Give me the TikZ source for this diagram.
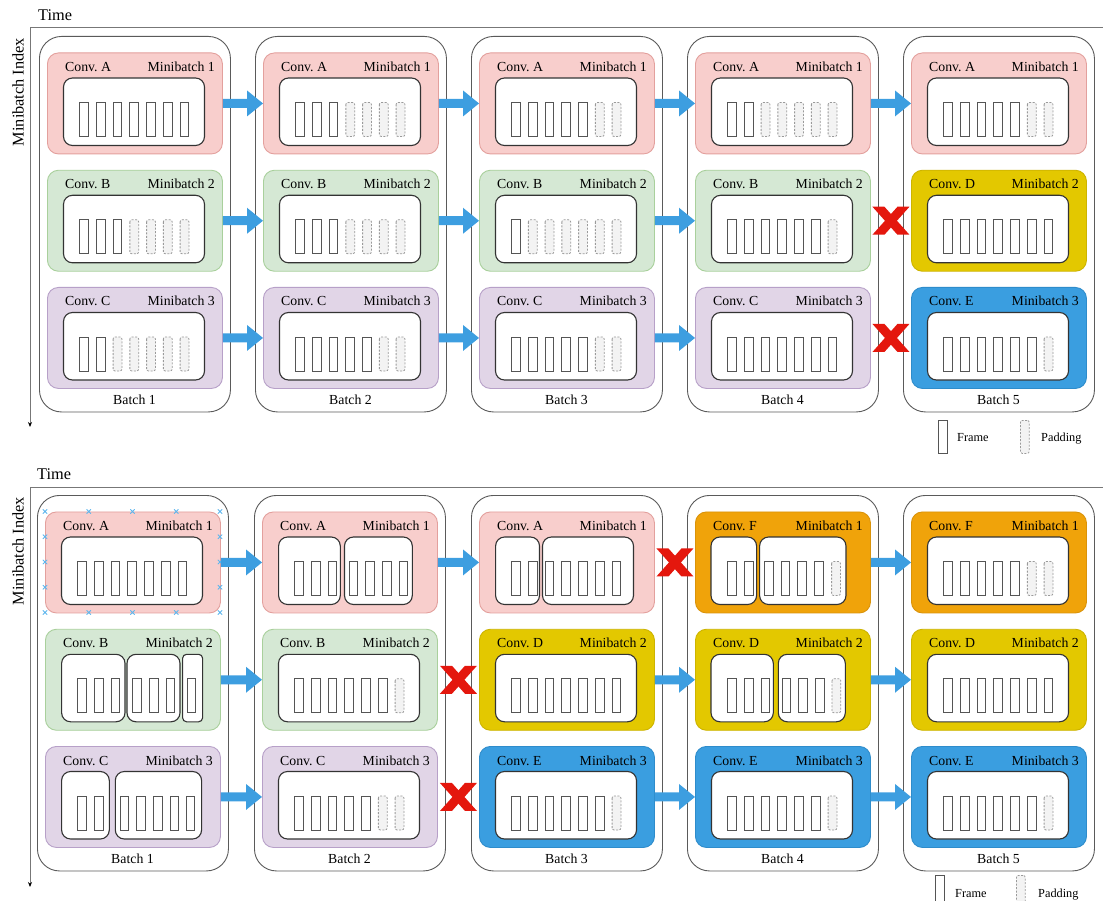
\documentclass[tikz,border=0pt]{standalone}
\usepackage{fontspec}
\setmainfont{Liberation Serif}
\usetikzlibrary{arrows.meta,calc}
\definecolor{pinkf}{HTML}{F8CECC}
\definecolor{pinkd}{HTML}{E3A09D}
\definecolor{greenf}{HTML}{D5E8D4}
\definecolor{greend}{HTML}{A9D09C}
\definecolor{purpf}{HTML}{E1D5E7}
\definecolor{purpd}{HTML}{B7A0C8}
\definecolor{yelf}{HTML}{E3C800}
\definecolor{yeld}{HTML}{CDB400}
\definecolor{oraf}{HTML}{F0A30A}
\definecolor{orad}{HTML}{DA930A}
\definecolor{bluf}{HTML}{3A9EE0}
\definecolor{blud}{HTML}{2E8CCB}
\definecolor{flowblue}{HTML}{3D9EE0}
\definecolor{xred}{HTML}{E4170D}
\definecolor{bgray}{HTML}{5A5A5A}
\definecolor{ink}{HTML}{333333}
\definecolor{frgray}{HTML}{555555}
\definecolor{pdgray}{HTML}{9A9A9A}
\definecolor{pdfill}{HTML}{F3F3F3}
\definecolor{axgray}{HTML}{777777}
\definecolor{selblue}{HTML}{5DB6EE}

\newcommand\MB[6]{%
  \node[mbn,#4] (#1) at (#2,#3) {};
  \node[lbl,anchor=base west] (#1c) at (#2+18,#3+19) {#5};
  \node[lbl,anchor=base east] (#1m) at (#2+168,#3+19) {#6};
}
\newcommand\IB[4]{\draw[ibox] (#1+#3,#2+25.5) rectangle (#1+#4,#2+93);}
\newcommand\FR[3]{\foreach \fx/\ft in {#3}{\draw[\ft] (#1+\fx,#2+50) rectangle ++(8.8,34);}}
\newcommand\STD[3]{%
  \IB{#1}{#2}{16.5}{157.5}%
  \foreach \k in {0,...,6}{%
    \pgfmathsetmacro\xx{#1+32.6+16.75*\k}%
    \ifnum\k<#3\relax \draw[fr] (\xx,#2+50) rectangle ++(8.8,34);%
    \else \draw[pd] (\xx,#2+50) rectangle ++(8.8,34);\fi}%
}
\newcommand\BATCH[4]{%
  \node[batchbox] (#1) at (#2,#3) {};
  \node[lbl,anchor=base] (#1l) at (#2+95.5,#3+368) {#4};
}
\newcommand\FLOW[2]{\fill[flowblue] let \p1=(#1.east), \p2=(#2.west) in
  (\x1,\y1+4.5pt) -- (\x2-16pt,\y1+4.5pt) -- (\x2-16pt,\y1+13pt) -- (\x2,\y1)
  -- (\x2-16pt,\y1-13pt) -- (\x2-16pt,\y1-4.5pt) -- (\x1,\y1-4.5pt) -- cycle;}
\newcommand\XM[2]{%
  \fill[xred] let \p1=($(#1.east)!.5!(#2.west)$) in
   (\x1-18.5pt,\y1+14pt) -- (\x1-6.5pt,\y1+14pt) -- (\x1+18.5pt,\y1-14pt) -- (\x1+6.5pt,\y1-14pt) -- cycle;
  \fill[xred] let \p1=($(#1.east)!.5!(#2.west)$) in
   (\x1+18.5pt,\y1+14pt) -- (\x1+6.5pt,\y1+14pt) -- (\x1-18.5pt,\y1-14pt) -- (\x1-6.5pt,\y1-14pt) -- cycle;}

\begin{document}
\frenchspacing
\begin{tikzpicture}[x=1pt,y=-1pt,
  batchbox/.style={draw=bgray,line width=0.9pt,fill=white,rounded corners=22pt,minimum width=191pt,minimum height=375.5pt,inner sep=0pt,anchor=north west},
  mbn/.style={line width=0.9pt,rounded corners=11pt,minimum width=175pt,minimum height=101pt,inner sep=0pt,anchor=north west},
  cA/.style={fill=pinkf,draw=pinkd},
  cB/.style={fill=greenf,draw=greend},
  cC/.style={fill=purpf,draw=purpd},
  cD/.style={fill=yelf,draw=yeld},
  cE/.style={fill=bluf,draw=blud},
  cF/.style={fill=oraf,draw=orad},
  lbl/.style={font=\fontsize{13.8}{16}\selectfont\frenchspacing,inner sep=0pt},
  big/.style={font=\fontsize{16.3}{19}\selectfont,inner sep=0pt},
  lgl/.style={font=\fontsize{12.3}{14}\selectfont,inner sep=0pt},
  ibox/.style={draw=ink,line width=1.1pt,fill=white,rounded corners=9pt},
  fr/.style={draw=frgray,line width=1pt,fill=white},
  pd/.style={draw=pdgray,line width=0.8pt,dash pattern=on 2pt off 1.5pt,fill=pdfill,rounded corners=2pt},
  axis/.style={draw=axgray,line width=1pt},
  selmark/.style={draw=selblue,line width=0.8pt}]
\useasboundingbox (0,0) rectangle (1103,901);

% ---------------- top panel axes
\coordinate (ta0) at (30,28); \coordinate (ta1) at (1103,28); \coordinate (ta2) at (30,427);
\draw[axis] (ta1) -- (ta0);
\draw[axis,-{Stealth[length=5pt,width=4pt,color=black]}] (ta0) -- (ta2);
\node[big,anchor=base west] (ttime) at (38,20.5) {Time};
\node[big,rotate=90] (tidx) at (18,92) {Minibatch Index};

\BATCH{tb1}{39}{36}{Batch 1}
\BATCH{tb2}{255}{36}{Batch 2}
\BATCH{tb3}{471}{36}{Batch 3}
\BATCH{tb4}{687}{36}{Batch 4}
\BATCH{tb5}{903}{36}{Batch 5}

\MB{t11}{47}{52.5}{cA}{Conv. A}{Minibatch 1}\STD{47}{52.5}{7}
\MB{t12}{47}{169.8}{cB}{Conv. B}{Minibatch 2}\STD{47}{169.8}{3}
\MB{t13}{47}{287}{cC}{Conv. C}{Minibatch 3}\STD{47}{287}{2}
\MB{t21}{263}{52.5}{cA}{Conv. A}{Minibatch 1}\STD{263}{52.5}{3}
\MB{t22}{263}{169.8}{cB}{Conv. B}{Minibatch 2}\STD{263}{169.8}{3}
\MB{t23}{263}{287}{cC}{Conv. C}{Minibatch 3}\STD{263}{287}{5}
\MB{t31}{479}{52.5}{cA}{Conv. A}{Minibatch 1}\STD{479}{52.5}{5}
\MB{t32}{479}{169.8}{cB}{Conv. B}{Minibatch 2}\STD{479}{169.8}{1}
\MB{t33}{479}{287}{cC}{Conv. C}{Minibatch 3}\STD{479}{287}{5}
\MB{t41}{695}{52.5}{cA}{Conv. A}{Minibatch 1}\STD{695}{52.5}{2}
\MB{t42}{695}{169.8}{cB}{Conv. B}{Minibatch 2}\STD{695}{169.8}{6}
\MB{t43}{695}{287}{cC}{Conv. C}{Minibatch 3}\STD{695}{287}{7}
\MB{t51}{911}{52.5}{cA}{Conv. A}{Minibatch 1}\STD{911}{52.5}{5}
\MB{t52}{911}{169.8}{cD}{Conv. D}{Minibatch 2}\STD{911}{169.8}{7}
\MB{t53}{911}{287}{cE}{Conv. E}{Minibatch 3}\STD{911}{287}{6}

\FLOW{t11}{t21}\FLOW{t21}{t31}\FLOW{t31}{t41}\FLOW{t41}{t51}
\FLOW{t12}{t22}\FLOW{t22}{t32}\FLOW{t32}{t42}
\FLOW{t13}{t23}\FLOW{t23}{t33}\FLOW{t33}{t43}
\XM{t42}{t52}\XM{t43}{t53}

\node[fr,minimum width=8.8pt,minimum height=33pt,inner sep=0pt,anchor=north west] (tlf) at (938,420) {};
\node[lgl,anchor=base west] (tlft) at (957,441) {Frame};
\node[pd,minimum width=8.8pt,minimum height=33pt,inner sep=0pt,anchor=north west] (tlp) at (1020,420) {};
\node[lgl,anchor=base west] (tlpt) at (1041,441) {Padding};

% ---------------- bottom panel axes
\coordinate (ba0) at (30,487.3); \coordinate (ba1) at (1103,487.3); \coordinate (ba2) at (30,887);
\draw[axis] (ba1) -- (ba0);
\draw[axis,-{Stealth[length=5pt,width=4pt,color=black]}] (ba0) -- (ba2);
\node[big,anchor=base west] (btime) at (37,479) {Time};
\node[big,rotate=90] (bidx) at (18,551) {Minibatch Index};

\BATCH{bb1}{37}{495}{Batch 1}
\BATCH{bb2}{254}{495}{Batch 2}
\BATCH{bb3}{471}{495}{Batch 3}
\BATCH{bb4}{687}{495}{Batch 4}
\BATCH{bb5}{903}{495}{Batch 5}

% batch 1
\MB{b11}{45}{511.5}{cA}{Conv. A}{Minibatch 1}\STD{45}{511.5}{7}
\MB{b12}{45}{628.8}{cB}{Conv. B}{Minibatch 2}
\IB{45}{628.8}{16.6}{80}\IB{45}{628.8}{82}{135}
\draw[ibox,rounded corners=4pt] (45+137.6,628.8+25.5) rectangle (45+157.6,628.8+93);
\FR{45}{628.8}{32.6/fr,49.3/fr,66/fr,87.6/fr,104.3/fr,121/fr,142/fr}
\MB{b13}{45}{746}{cC}{Conv. C}{Minibatch 3}
\IB{45}{746}{16.6}{64.3}\IB{45}{746}{70.3}{156.6}
\FR{45}{746}{32.6/fr,49.3/fr,75/fr,91.6/fr,108.3/fr,125/fr,141/fr}
% selection handles
\foreach \i in {0,...,4}{%
  \draw[selmark] (45+43.75*\i,511.5) +(-2.2,-2.2) -- +(2.2,2.2) +(-2.2,2.2) -- +(2.2,-2.2);
  \draw[selmark] (45+43.75*\i,612.5) +(-2.2,-2.2) -- +(2.2,2.2) +(-2.2,2.2) -- +(2.2,-2.2);}
\foreach \j in {1,2,3}{%
  \draw[selmark] (45,511.5+25.25*\j) +(-2.2,-2.2) -- +(2.2,2.2) +(-2.2,2.2) -- +(2.2,-2.2);
  \draw[selmark] (220,511.5+25.25*\j) +(-2.2,-2.2) -- +(2.2,2.2) +(-2.2,2.2) -- +(2.2,-2.2);}
% batch 2
\MB{b21}{262}{511.5}{cA}{Conv. A}{Minibatch 1}
\IB{262}{511.5}{16.6}{78.3}\IB{262}{511.5}{82.5}{150.3}
\FR{262}{511.5}{32.6/fr,49.3/fr,66/fr,87/fr,103.6/fr,120.3/fr,137/fr}
\MB{b22}{262}{628.8}{cB}{Conv. B}{Minibatch 2}\STD{262}{628.8}{6}
\MB{b23}{262}{746}{cC}{Conv. C}{Minibatch 3}\STD{262}{746}{5}
% batch 3
\MB{b31}{479}{511.5}{cA}{Conv. A}{Minibatch 1}
\IB{479}{511.5}{16.6}{60.5}\IB{479}{511.5}{63.5}{154.5}
\FR{479}{511.5}{32.6/fr,49.35/fr,66.1/fr,82.85/fr,99.6/fr,116.35/fr,133.1/fr}
\MB{b32}{479}{628.8}{cD}{Conv. D}{Minibatch 2}\STD{479}{628.8}{7}
\MB{b33}{479}{746}{cE}{Conv. E}{Minibatch 3}\STD{479}{746}{6}
% batch 4
\MB{b41}{695}{511.5}{cF}{Conv. F}{Minibatch 1}
\IB{695}{511.5}{16}{61.6}\IB{695}{511.5}{64.6}{151}
\FR{695}{511.5}{32.6/fr,49.3/fr,69.3/fr,86/fr,102.6/fr,119.3/fr,136.6/pd}
\MB{b42}{695}{628.8}{cD}{Conv. D}{Minibatch 2}
\IB{695}{628.8}{16}{78.3}\IB{695}{628.8}{83.3}{150.3}
\FR{695}{628.8}{32.6/fr,49.3/fr,66/fr,87/fr,103.6/fr,120.3/fr,137/pd}
\MB{b43}{695}{746}{cE}{Conv. E}{Minibatch 3}\STD{695}{746}{6}
% batch 5
\MB{b51}{911}{511.5}{cF}{Conv. F}{Minibatch 1}\STD{911}{511.5}{5}
\MB{b52}{911}{628.8}{cD}{Conv. D}{Minibatch 2}\STD{911}{628.8}{7}
\MB{b53}{911}{746}{cE}{Conv. E}{Minibatch 3}\STD{911}{746}{6}

\FLOW{b11}{b21}\FLOW{b21}{b31}\FLOW{b41}{b51}
\FLOW{b12}{b22}\FLOW{b32}{b42}\FLOW{b42}{b52}
\FLOW{b13}{b23}\FLOW{b33}{b43}\FLOW{b43}{b53}
\XM{b31}{b41}\XM{b22}{b32}\XM{b23}{b33}

\node[fr,minimum width=8.8pt,minimum height=33pt,inner sep=0pt,anchor=north west] (blf) at (935,875) {};
\node[lgl,anchor=base west] (blft) at (955,897.5) {Frame};
\node[pd,minimum width=8.8pt,minimum height=33pt,inner sep=0pt,anchor=north west] (blp) at (1016,875) {};
\node[lgl,anchor=base west] (blpt) at (1038,897.5) {Padding};
\end{tikzpicture}
\end{document}
